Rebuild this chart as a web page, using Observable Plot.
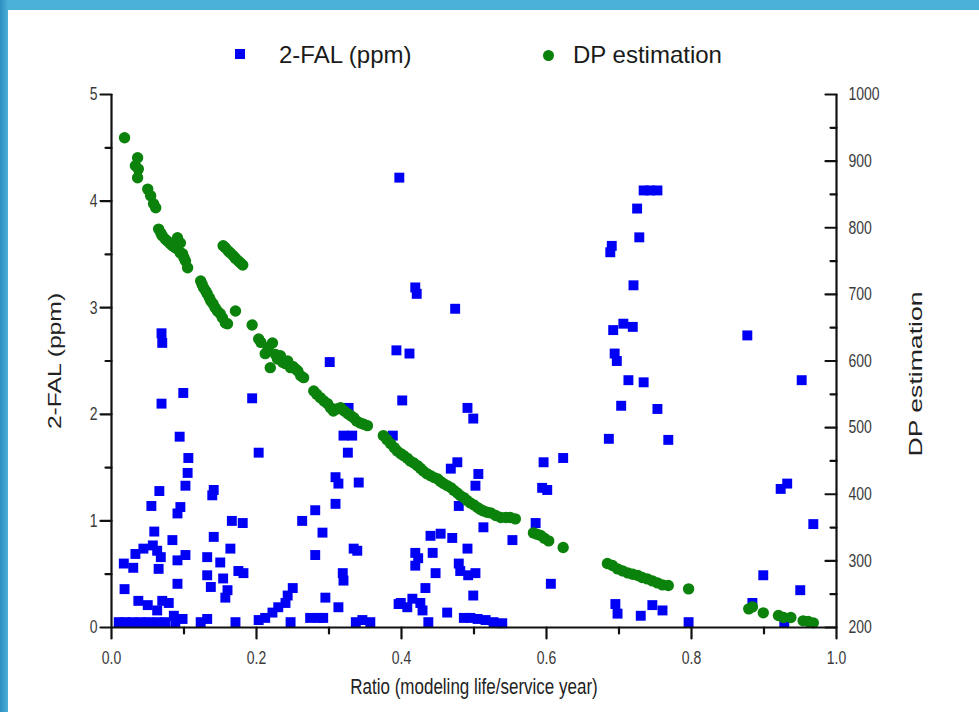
<!DOCTYPE html>
<html><head><meta charset="utf-8">
<script src="https://cdn.jsdelivr.net/npm/d3@7"></script>
<script src="https://cdn.jsdelivr.net/npm/@observablehq/plot@0.6"></script>
<style>
body{margin:0;background:#fff;font-family:"Liberation Sans",Arial,sans-serif;}
#wrap{position:relative;width:979px;height:712px;overflow:hidden;background:#fff;}
#legend{position:relative;height:75px;}
.lg{position:absolute;font-size:24px;line-height:24px;color:#1a1a1a;white-space:nowrap;}
.sw{position:absolute;width:10px;height:10px;}
.bt{position:absolute;left:0;top:0;width:979px;height:10px;background:#4bb0d8;}
.bl{position:absolute;left:0;top:0;width:8px;height:712px;background:linear-gradient(to right,#2f8fc0,#4bb0d8);}
</style></head>
<body>
<div id="wrap">
  <div id="legend"></div>
  <div id="chart"></div>
  <div class="bt"></div><div class="bl"></div>
</div>
<script>
// ---- data ----
const seriesNames = ["2-FAL (ppm)", "DP estimation"];
const seriesColors = ["#0000f5", "#0b820b"];
const xTitle = "Ratio (modeling life/service year)";
const yLeftTitle = "2-FAL (ppm)";
const yRightTitle = "DP estimation";

const xMajor = [0, 0.2, 0.4, 0.6, 0.8, 1.0];
const xMinor = [0.1, 0.3, 0.5, 0.7, 0.9];
const yLeftMajor = [0, 1, 2, 3, 4, 5];
const yLeftMinor = [0.5, 1.5, 2.5, 3.5, 4.5];
const dpMajor = [200, 300, 400, 500, 600, 700, 800, 900, 1000];
const dpMinor = [250, 350, 450, 550, 650, 750, 850, 950];

const ffalRatio = [.069,.070,.069,.099,.194,.094,.203,.106,.105,.102,.066,.141,.139,.055,.095,.091,.166,.181,.059,.084,.141,.164,.033,.044,.057,.063,.068,.065,.017,.030,.102,.091,.132,.150,.175,.182,.132,.137,.154,.160,.157,.091,.018,.037,.050,.070,.079,.063,.086,
.010,.019,.029,.040,.051,.063,.074,.088,.098,.132,.123,.171,
.203,.212,.222,.230,.240,.243,.250,.247,
.281,.263,.291,.281,.309,.313,.309,.341,.320,.332,.326,.334,.339,.319,.320,.295,.313,.274,.286,.292,.337,.346,.301,
.397,.419,.421,.474,.393,.411,.401,.491,.499,.477,.468,.506,.502,.596,.623,.594,.601,.479,.513,.585,.553,.440,.454,.470,.491,.419,.423,.443,.419,.447,.479,.481,.492,.502,.606,.433,.499,.399,.408,.415,.426,.429,.463,.437,.486,.495,.505,.516,.527,.539,.396,.357,.327,.388,
.698,.734,.743,.753,.725,.728,.690,.688,.720,.692,.706,.719,.694,.697,.713,.734,.703,.753,.686,.768,.877,.952,.923,.932,.968,.899,.950,.884,.695,.746,.760,.730,.796,.928];
const ffalValue = [2.76,2.67,2.10,2.20,2.15,1.79,1.64,1.59,1.45,1.33,1.28,1.29,1.24,1.14,1.13,1.07,1.00,.98,.90,.82,.85,.74,.69,.74,.77,.72,.66,.55,.60,.56,.68,.63,.66,.61,.53,.51,.49,.38,.46,.35,.28,.41,.36,.25,.21,.25,.23,.16,.11,
.05,.05,.05,.05,.05,.05,.05,.05,.08,.08,.05,.05,
.07,.09,.14,.19,.23,.30,.37,.05,
1.10,1.00,.89,.68,1.41,1.35,1.16,1.36,1.80,1.80,1.64,.74,.72,.51,.44,.28,.19,.09,.09,.09,.05,.07,2.49,
4.22,3.19,3.13,2.99,2.60,2.57,2.13,2.06,1.96,1.55,1.49,1.44,1.33,1.55,1.59,1.31,1.29,1.14,.94,.98,.82,.86,.88,.84,.74,.70,.65,.70,.58,.51,.60,.53,.49,.51,.41,.37,.30,.23,.19,.27,.23,.16,.14,.05,.09,.09,.08,.07,.05,.04,.22,.05,2.06,1.80,
.13,4.10,4.10,4.10,3.93,3.66,3.58,3.52,3.21,2.79,2.85,2.82,2.57,2.50,2.32,2.30,2.08,2.05,1.77,1.76,2.74,2.32,1.30,1.35,.97,.49,.35,.23,.22,.21,.16,.11,.05,.05];

const dpRatio = [.018,.033,.036,.037,.036,.050,.054,.058,.061,.065,.068,.070,.074,.077,.081,.084,.088,.091,.091,.095,.095,.098,.100,.102,.105,
.154,.157,.161,.164,.168,.171,.175,.178,.181,
.123,.125,.127,.130,.132,.135,.137,.140,.143,.146,.150,.153,.157,.160,.171,.194,
.203,.206,.212,.216,.219,.222,.226,.229,.233,.236,.240,.243,.247,.250,.254,.257,.261,.265,
.279,.283,.288,.293,.298,.302,.306,.311,.316,.321,.326,.330,.334,.338,.343,.348,.353,
.375,.380,.385,.390,.394,.399,.403,.408,.412,.417,.422,.426,.430,.435,.440,.445,.450,.454,.458,.463,.468,.472,.477,.481,.486,.490,.495,.500,.505,.509,.513,.518,.523,.530,.537,.544,.550,.557,
.582,.587,.592,.597,.603,.623,
.684,.691,.698,.705,.712,.719,.726,.732,.739,.746,.753,.760,.768,.796,
.879,.884,.899,.920,.927,.937,.954,.961,.968];
const dpValue = [935,893,905,888,875,858,848,836,830,798,792,788,783,780,776,773,770,768,785,777,762,761,755,750,740,
773,770,765,762,758,754,750,747,744,
720,715,710,705,701,695,690,686,680,675,671,665,657,656,675,654,
633,628,611,620,590,627,610,603,608,598,596,600,590,592,588,585,578,575,
555,550,545,540,536,530,525,528,530,525,521,518,515,510,507,505,503,
488,482,476,470,465,461,458,454,450,447,443,439,435,431,428,425,423,419,416,413,410,406,402,398,395,391,387,384,380,377,375,373,372,368,365,365,365,363,
342,340,338,334,330,320,
296,293,288,285,282,280,278,275,273,270,267,264,263,258,
228,231,222,218,215,215,210,209,207];

// ---- legend (HTML, above the svg) ----
const legend = document.getElementById("legend");
legend.innerHTML =
  `<div class="sw" style="left:235px;top:49px;background:${seriesColors[0]}"></div>
   <div class="lg" style="left:279px;top:43px">${seriesNames[0]}</div>
   <div class="sw" style="left:543px;top:50px;width:11px;height:11px;background:${seriesColors[1]};border-radius:50%"></div>
   <div class="lg" style="left:573px;top:43px">${seriesNames[1]}</div>`;

// ---- chart ----
const dpToY = d => (d - 200) / 160;
const font = '"Liberation Sans", Arial, sans-serif';
const ink = "#111";
const tickShape = {draw(ctx, l) { ctx.moveTo(0, 0); ctx.lineTo(0, -l); }};
const tickOpts = {anchor: "start", shape: tickShape, stroke: ink, strokeWidth: 2.2};

const chart = Plot.plot({
  width: 979, height: 637,
  marginTop: 19, marginBottom: 85, marginLeft: 111, marginRight: 143,
  x: {domain: [0, 1]},
  y: {domain: [0, 5]},
  style: {fontFamily: font, fontSize: "14px", color: "#3a3a3a", background: "transparent", overflow: "visible"},
  marks: [
    Plot.dot(ffalValue, {x: ffalRatio, y: ffalValue, symbol: "square", r: 5.6, fill: seriesColors[0]}),
    Plot.dot(dpValue, {x: dpRatio, y: dpValue.map(dpToY), r: 5.7, fill: seriesColors[1]}),
    Plot.ruleY([0], {strokeWidth: 2.2, stroke: ink}),
    Plot.ruleX([0, 1], {strokeWidth: 2.2, stroke: ink}),
    // ticks
    Plot.vector(xMajor, {x: d => d, y: 0, length: 11, rotate: 180, ...tickOpts}),
    Plot.vector(xMinor, {x: d => d, y: 0, length: 6, rotate: 180, ...tickOpts}),
    Plot.vector(yLeftMajor, {x: 0, y: d => d, length: 11, rotate: -90, ...tickOpts}),
    Plot.vector(yLeftMinor, {x: 0, y: d => d, length: 6, rotate: -90, ...tickOpts}),
    Plot.vector(dpMajor, {x: 1, y: d => dpToY(d), length: 11, rotate: -90, ...tickOpts}),
    Plot.vector(dpMinor, {x: 1, y: d => dpToY(d), length: 6, rotate: -90, ...tickOpts}),
    // tick labels
    Plot.axisX(xMajor, {tickSize: 0, tickPadding: 23, tickFormat: d3.format(".1f"), label: null, fontSize: 14}),
    Plot.axisY(yLeftMajor, {tickSize: 0, tickPadding: 14, tickFormat: d => String(d), label: null, fontSize: 14}),
    Plot.axisY(dpMajor.map(dpToY), {anchor: "right", tickSize: 0, tickPadding: 12, tickFormat: d => String(Math.round(d * 160 + 200)), label: null, fontSize: 14}),
    // titles
    Plot.text([xTitle], {frameAnchor: "bottom", dy: 66, fontSize: 17, fill: "#222"}),
    Plot.text([yLeftTitle], {frameAnchor: "left", textAnchor: "middle", dx: -57, rotate: -90, fontSize: 19, fill: "#222"}),
    Plot.text([yRightTitle], {frameAnchor: "right", textAnchor: "middle", dx: 79, dy: 13, rotate: -90, fontSize: 19, fill: "#222"})
  ]
});

// the reference's lettering is stretched; mimic that with a scale on each text element
const isNum = v => v !== null && /^-?[\d.]+(e-?\d+)?$/.test(v);
function stretchText(t, sx, sy) {
  const tr = t.getAttribute("transform") || "";
  let tx = 0, ty = 0;
  const x = t.getAttribute("x"), y = t.getAttribute("y");
  if (x !== null) { if (isNum(x)) tx = +x; else t.setAttribute("dx", x); t.removeAttribute("x"); }
  if (y !== null) { if (isNum(y)) ty = +y; else t.setAttribute("dy", y); t.removeAttribute("y"); }
  t.setAttribute("transform", `${tr} translate(${tx},${ty}) scale(${sx},${sy})`);
}
chart.querySelectorAll('g[aria-label="x-axis tick label"] text').forEach(t => stretchText(t, 1, 1.35));
chart.querySelectorAll('g[aria-label="y-axis tick label"] text').forEach(t => stretchText(t, 1, 1.3));
chart.querySelectorAll("text").forEach(t => {
  const s = t.textContent;
  if (s === xTitle) stretchText(t, 1, 1.35);
  else if (s === yLeftTitle) stretchText(t, 1.3, 1);
  else if (s === yRightTitle) stretchText(t, 1.4, 1);
});

document.getElementById("chart").appendChild(chart);
</script>
</body></html>
